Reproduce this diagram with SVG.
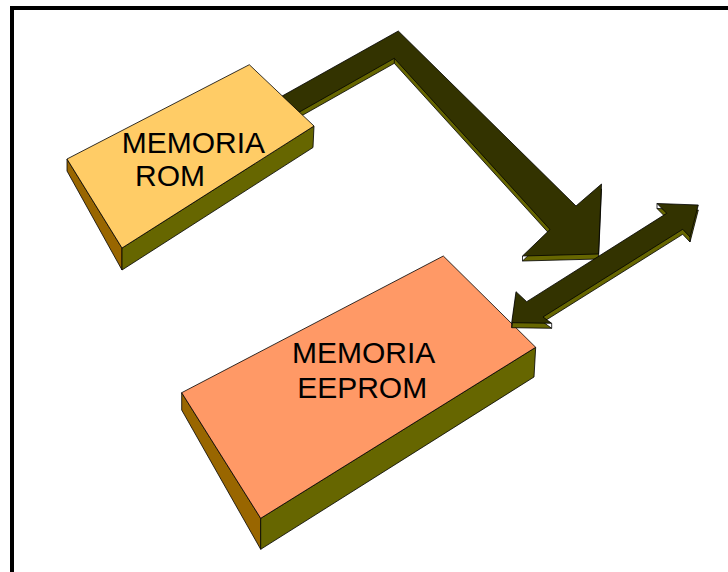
<svg xmlns="http://www.w3.org/2000/svg" width="728" height="572" viewBox="0 0 728 572">
  <style>
    .top-dark { fill: #333300; stroke: #000; stroke-width: 0.8; stroke-linejoin: miter; }
    .side { fill: #666600; stroke: #000; stroke-width: 0.8; }
    .side-left { fill: #996600; stroke: #000; stroke-width: 0.8; }
    .label { font-family: "Liberation Sans", Arial, sans-serif; font-size: 30px; fill: #000; }
    .edge { stroke: #000; stroke-width: 0.8; }
  </style>

  <rect x="0" y="0" width="728" height="572" fill="#fff"/>

  <!-- frame -->
  <path d="M12,572 V8 H728" fill="none" stroke="#000" stroke-width="4"/>

  <!-- connectors -->
  <g id="connectors">
    <!-- bent arrow from ROM towards EEPROM -->
    <g id="arrow-rom-eeprom">
      <polygon class="side" transform="translate(0,5)"
        points="250,114 398.3,31 576,206 601.5,184 598.5,254 522.5,256 550,229.5 394.3,58.3 250,140"/>
      <line class="edge" x1="394.3" y1="58.3" x2="394.3" y2="63.3"/>
      <line class="edge" x1="522.5" y1="256" x2="522.5" y2="261"/>
      <line class="edge" x1="550" y1="229.5" x2="550" y2="234.5"/>
      <polygon class="top-dark"
        points="250,114 398.3,31 576,206 601.5,184 598.5,254 522.5,256 550,229.5 394.3,58.3 250,140"/>
    </g>
  </g>

  <!-- ROM memory block -->
  <g id="node-rom">
    <polygon class="side-left" points="67,159 122,248 122,270 67,171"/>
    <polygon class="side" points="122,248 314,126 313,147.5 122,270"/>
    <polygon fill="#FFCC66" stroke="#000" stroke-width="0.8" points="67,159 249.3,64.7 314,126 122,248"/>
    <text class="label" x="121.7" y="153.3">MEMORIA</text>
    <text class="label" x="135" y="186">ROM</text>
  </g>

  <!-- EEPROM memory block -->
  <g id="node-eeprom">
    <polygon class="side-left" points="181.7,392.7 260.7,518.3 260.7,549.3 181.7,410"/>
    <polygon class="side" points="260.7,518.3 535.7,347.3 534,377 260.7,549.3"/>
    <polygon fill="#FF9966" stroke="#000" stroke-width="0.8" points="181.7,392.7 443.3,256 535.7,347.3 260.7,518.3"/>
    <text class="label" x="363.7" y="363.3" text-anchor="middle">MEMORIA</text>
    <text class="label" x="362.2" y="398.3" text-anchor="middle">EEPROM</text>
  </g>

  <g id="connectors-bus">
    <!-- two-way arrow between EEPROM and the outside -->
    <g id="arrow-eeprom-bus">
      <polygon class="side" transform="translate(0,5)"
        points="698.3,205 690,237 682.7,229.3 543,317 551.7,323.3 511.7,322.7 516,291.7 526.7,301.7 666.7,213.3 657,203.5"/>
      <line class="edge" x1="551.7" y1="323.3" x2="551.7" y2="328.3"/>
      <line class="edge" x1="690" y1="237" x2="690" y2="242"/>
      <line class="edge" x1="657" y1="203.5" x2="657" y2="208.5"/>
      <line class="edge" x1="511.7" y1="322.7" x2="511.7" y2="327.7"/>
      <polygon class="top-dark"
        points="698.3,205 690,237 682.7,229.3 543,317 551.7,323.3 511.7,322.7 516,291.7 526.7,301.7 666.7,213.3 657,203.5"/>
    </g>
  </g>
</svg>
